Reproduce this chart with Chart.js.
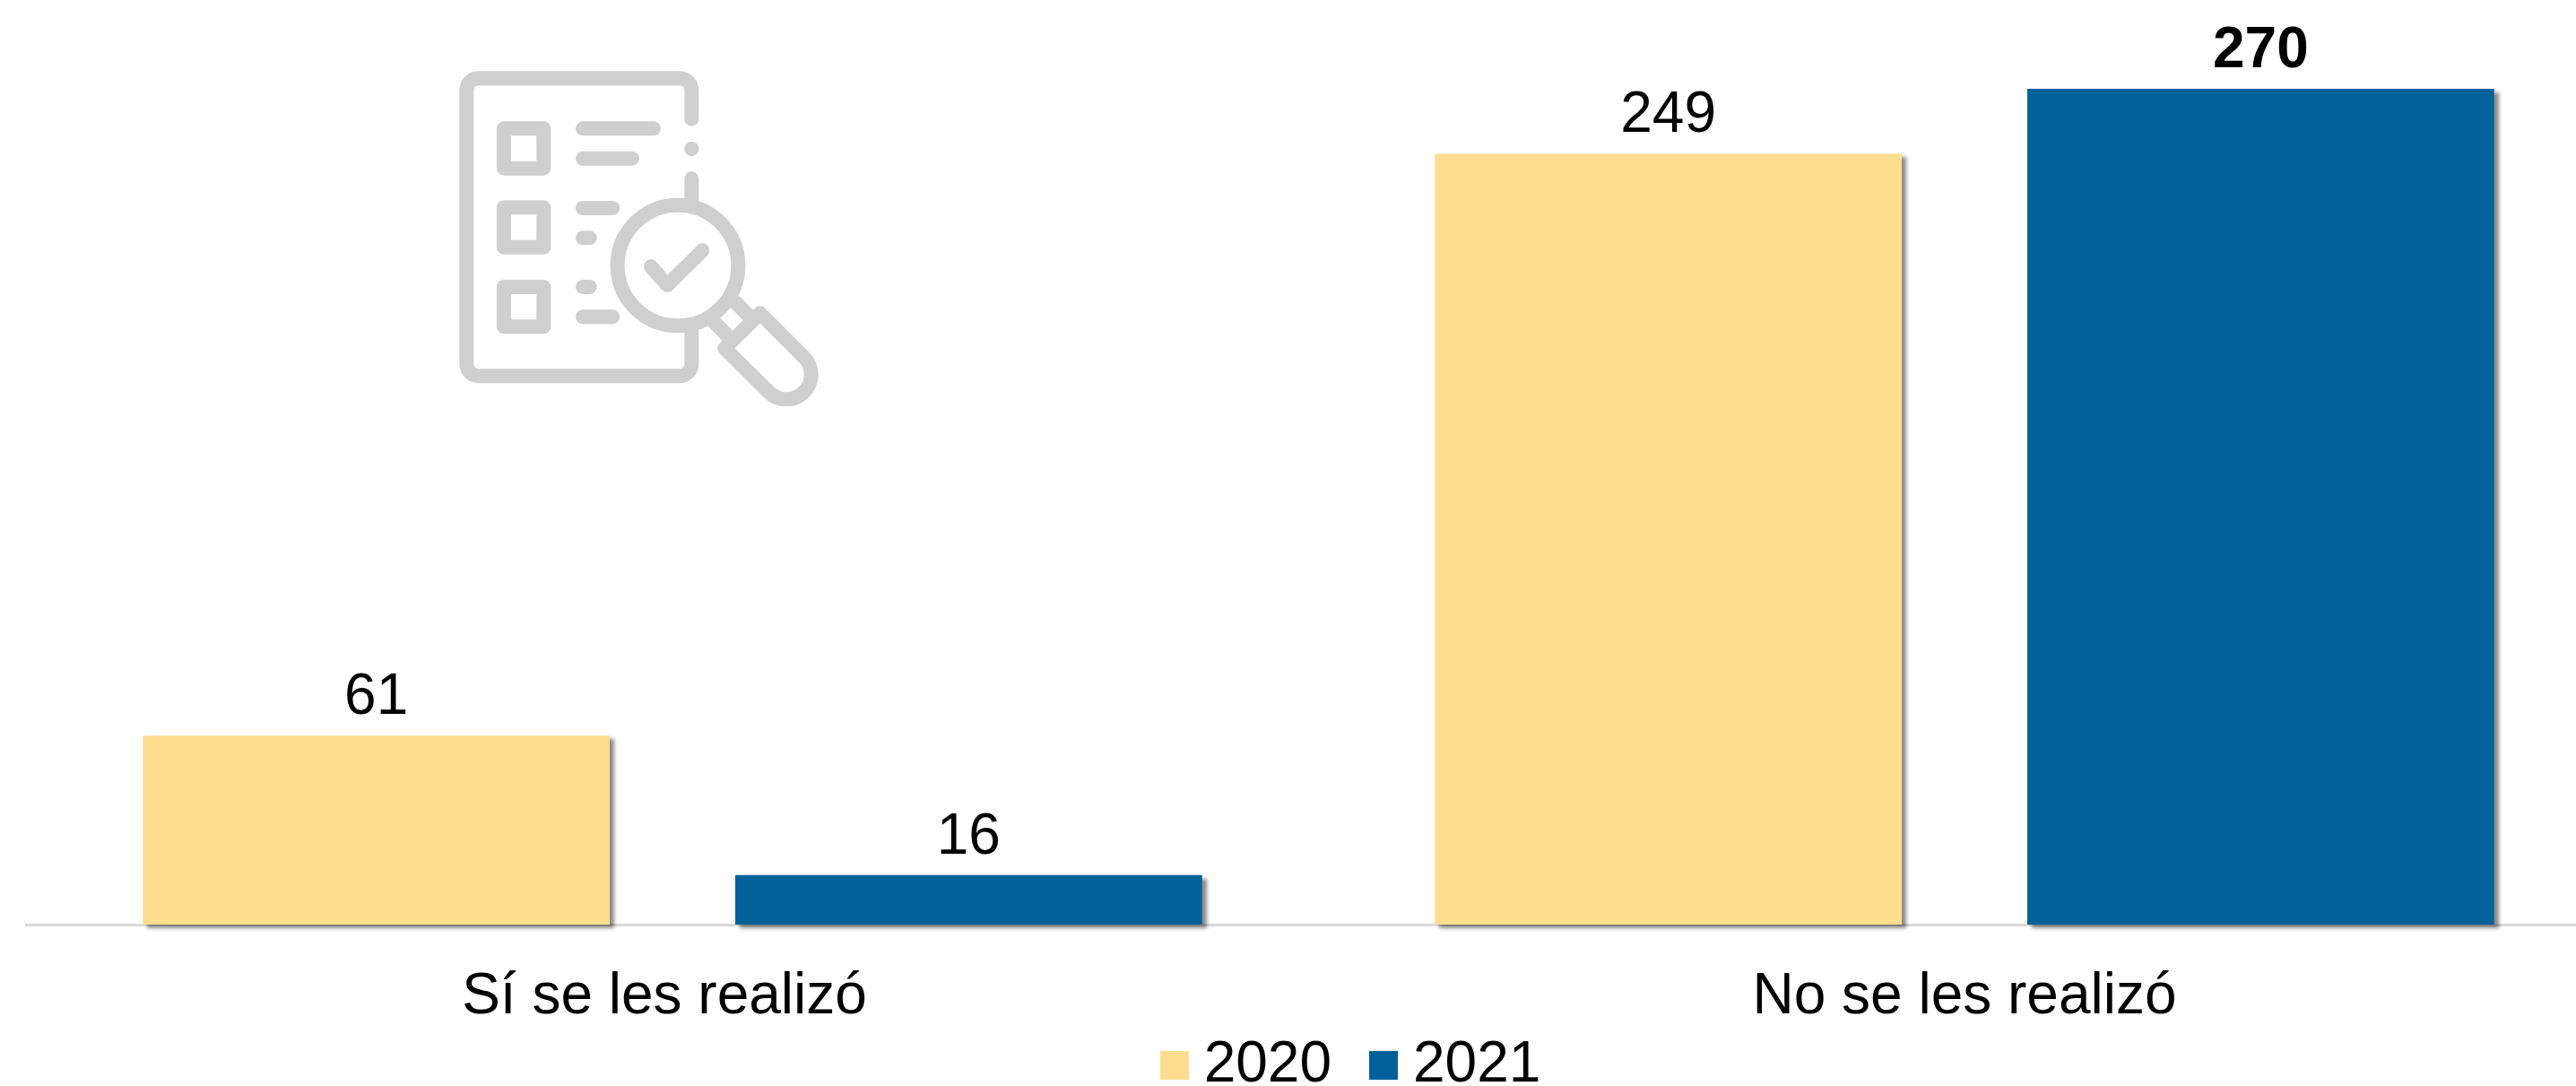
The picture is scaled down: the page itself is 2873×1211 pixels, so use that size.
<!DOCTYPE html>
<html>
<head>
<meta charset="utf-8">
<style>
html,body{margin:0;padding:0;background:#fff;width:2873px;height:1211px;overflow:hidden}
#wrap{position:absolute;left:0;top:0;width:2873px;height:1211px;overflow:hidden}
canvas{display:block}
</style>
<script src="https://cdn.jsdelivr.net/npm/chart.js@4"></script>
</head>
<body>
<div id="wrap"><canvas id="c" width="2912" height="1211"></canvas></div>
<script>
const categories = ['Sí se les realizó', 'No se les realizó'];
const seriesNames = ['2020', '2021'];
const values2020 = [61, 249];
const values2021 = [16, 270];
const colors = ['#FEDD8E', '#03619A'];
const boldLabel = 270;
const FONT = '"Liberation Sans", Arial, sans-serif';

function swatch(color) {
  const s = document.createElement('canvas');
  s.width = 32; s.height = 32;
  const g = s.getContext('2d');
  g.fillStyle = color;
  g.fillRect(0, 0, 32, 32);
  return s;
}

const barShadow = {
  id: 'barShadow',
  beforeDatasetDraw(chart) {
    const c = chart.ctx;
    c.save();
    c.shadowColor = 'rgba(0,0,0,0.45)';
    c.shadowBlur = 4;
    c.shadowOffsetX = 5;
    c.shadowOffsetY = 4;
  },
  afterDatasetDraw(chart) { chart.ctx.restore(); }
};

const nudge = {
  id: 'nudge',
  afterLayout(chart) {
    chart.legend.left += 43;
    chart.legend.right += 43;
  },
  beforeDraw(chart) {
    const items = chart.scales.x.getLabelItems(chart.chartArea);
    if (items[0]) items[0].options.translation[0] -= 9;
  }
};

const valueLabels = {
  id: 'valueLabels',
  afterDatasetsDraw(chart) {
    const c = chart.ctx;
    c.save();
    c.textAlign = 'center';
    c.textBaseline = 'alphabetic';
    c.fillStyle = '#000';
    chart.data.datasets.forEach((ds, i) => {
      chart.getDatasetMeta(i).data.forEach((el, j) => {
        const v = ds.data[j];
        c.font = (v === boldLabel ? 'bold ' : '') + '64px ' + FONT;
        c.fillText(String(v), el.x, el.y - 24);
      });
    });
    c.restore();
  }
};

// Decorative checklist / magnifier icon
const icon = {
  id: 'icon',
  afterDraw(chart) {
    const c = chart.ctx;
    c.save();
    c.translate(480, 50);
    c.scale(1 / 3, 1 / 3);
    c.strokeStyle = '#CFCFCF';
    c.fillStyle = '#CFCFCF';
    c.lineWidth = 48;
    c.lineCap = 'round';
    c.lineJoin = 'round';
    const line = (pts) => {
      c.beginPath();
      pts.forEach((p, i) => i ? c.lineTo(p[0], p[1]) : c.moveTo(p[0], p[1]));
      c.stroke();
    };
    c.beginPath();
    c.moveTo(874, 248);
    c.lineTo(874, 152);
    c.arcTo(874, 112, 834, 112, 40);
    c.lineTo(161, 112);
    c.arcTo(121, 112, 121, 152, 40);
    c.lineTo(121, 1068);
    c.arcTo(121, 1108, 161, 1108, 40);
    c.lineTo(834, 1108);
    c.arcTo(874, 1108, 874, 1068, 40);
    c.lineTo(874, 960);
    c.stroke();
    c.beginPath(); c.arc(874, 348, 24, 0, Math.PI * 2); c.fill();
    line([[874, 448], [874, 520]]);
    [280, 544, 810].forEach(y => c.strokeRect(246, y, 133, 133));
    line([[510, 280], [747, 280]]);
    line([[510, 380], [675, 380]]);
    line([[510, 546], [610, 546]]);
    line([[510, 646], [533, 646]]);
    line([[510, 810], [533, 810]]);
    line([[510, 910], [610, 910]]);
    c.beginPath(); c.arc(828, 738, 202, 0, Math.PI * 2); c.stroke();
    line([[738, 742], [793, 804], [910, 688]]);
    line([[1022, 863], [1062, 903]]);
    line([[953, 932], [993, 972]]);
    c.beginPath();
    c.moveTo(1103, 898);
    c.lineTo(1250, 1045);
    c.arc(1191, 1103, 83, -Math.PI / 4, Math.PI * 3 / 4);
    c.lineTo(985, 1015);
    c.closePath();
    c.stroke();
    c.restore();
  }
};

new Chart(document.getElementById('c'), {
  type: 'bar',
  data: {
    labels: categories,
    datasets: [
      { label: seriesNames[0], data: values2020, backgroundColor: colors[0], clip: false },
      { label: seriesNames[1], data: values2021, backgroundColor: colors[1], clip: false }
    ]
  },
  plugins: [barShadow, nudge, valueLabels, icon],
  options: {
    responsive: false,
    animation: false,
    devicePixelRatio: 1,
    categoryPercentage: 0.917,
    barPercentage: 0.788,
    layout: { padding: { left: 29.5, right: 0.5, top: 99, bottom: -19 } },
    scales: {
      x: {
        grid: { display: false, drawTicks: false },
        border: { color: '#D9D9D9', width: 3 },
        ticks: { color: '#000', font: { family: FONT, size: 64 }, padding: 43, maxRotation: 0 },
        afterFit(scale) {
          scale.height = 68;
          scale._computeLabelArea = () => undefined;
        }
      },
      y: { display: false, min: 0, max: 270 }
    },
    plugins: {
      tooltip: { enabled: false },
      legend: {
        position: 'bottom',
        labels: {
          color: '#000',
          font: { family: FONT, size: 64 },
          usePointStyle: true,
          pointStyleWidth: 2,
          boxHeight: 32,
          padding: 57,
          generateLabels(chart) {
            const items = Chart.defaults.plugins.legend.labels.generateLabels(chart);
            items.forEach((it, i) => { it.pointStyle = swatch(colors[i]); });
            return items;
          }
        }
      }
    }
  }
});
</script>
</body>
</html>
